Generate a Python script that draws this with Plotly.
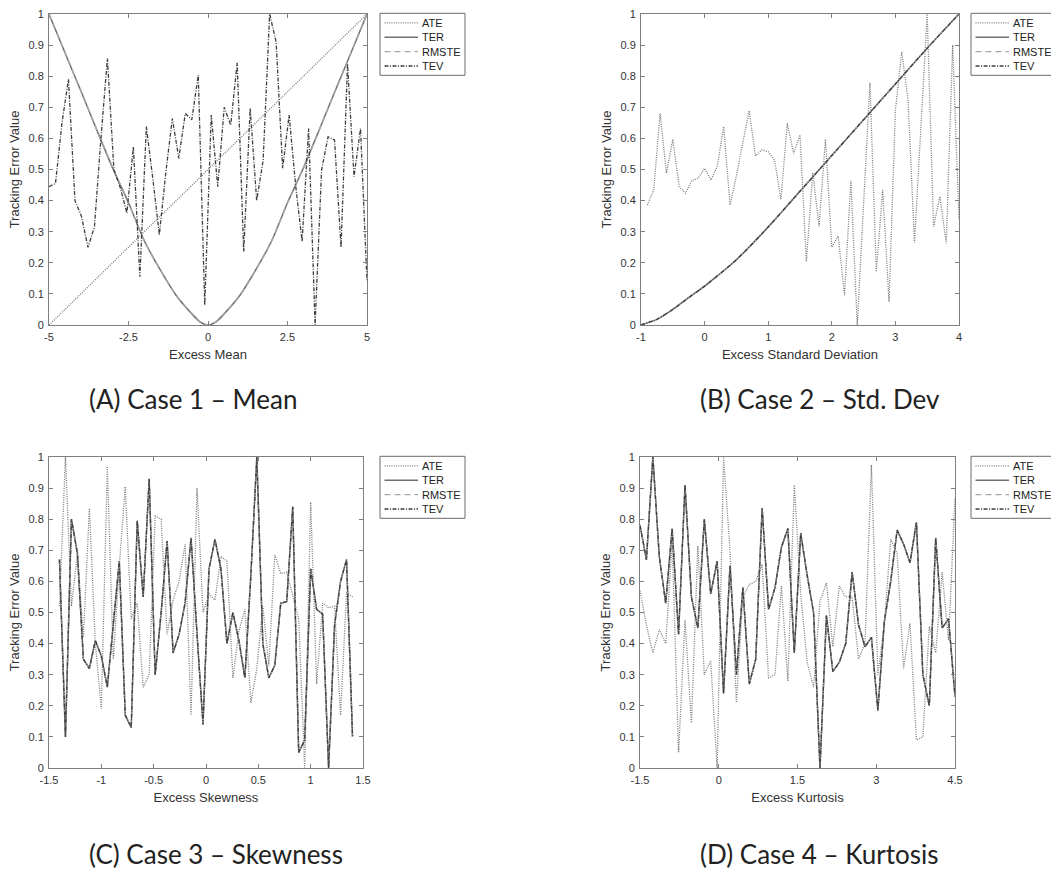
import numpy as np
import plotly.graph_objects as go

W, H = 1051, 872

series_names = ["ATE", "TER", "RMSTE", "TEV"]
y_ticks = [0, 0.1, 0.2, 0.3, 0.4, 0.5, 0.6, 0.7, 0.8, 0.9, 1]
y_ticktext = ["0", "0.1", "0.2", "0.3", "0.4", "0.5", "0.6", "0.7", "0.8", "0.9", "1"]

# ---- Case 1: excess mean ----
mean_x = np.linspace(-5, 5, 50)
mean_tev = [0.445, 0.455, 0.65, 0.79, 0.40, 0.35, 0.25, 0.315, 0.60, 0.857,
            0.50, 0.44, 0.36, 0.573, 0.155, 0.638, 0.47, 0.29, 0.49, 0.664,
            0.536, 0.68, 0.66, 0.804, 0.064, 0.675, 0.445, 0.70, 0.643, 0.843,
            0.236, 0.697, 0.40, 0.53, 1.0, 0.91, 0.504, 0.675, 0.45, 0.268,
            0.632, 0.0, 0.498, 0.605, 0.595, 0.25, 0.84, 0.477, 0.632, 0.14]
mean_ate_x = [-5, -2.5, 0, 2.5, 5]
mean_ate = [0.0, 0.25, 0.5, 0.75, 1.0]
mean_curve_x = [-5, -4.5, -4, -3.5, -3, -2.5, -2, -1.5, -1, -0.5, -0.25, 0,
                0.25, 0.5, 1, 1.5, 2, 2.5, 3, 3.5, 4, 4.5, 5]
mean_ter = [1.0, 0.876, 0.753, 0.628, 0.505, 0.393, 0.27, 0.177, 0.095, 0.035, 0.01, 0.0,
            0.01, 0.035, 0.095, 0.177, 0.27, 0.393, 0.505, 0.628, 0.753, 0.876, 1.0]
mean_rmste = [1.0, 0.876, 0.753, 0.628, 0.505, 0.393, 0.27, 0.177, 0.095, 0.035, 0.01, 0.0,
              0.01, 0.035, 0.095, 0.177, 0.27, 0.393, 0.505, 0.628, 0.753, 0.876, 1.0]

# ---- Case 2: excess standard deviation ----
std_x = np.linspace(-0.9, 4.0, 50)
std_ate = [0.386, 0.434, 0.68, 0.488, 0.597, 0.445, 0.423, 0.465, 0.472, 0.504,
           0.466, 0.511, 0.638, 0.386, 0.48, 0.58, 0.689, 0.544, 0.563, 0.557,
           0.53, 0.404, 0.648, 0.552, 0.611, 0.204, 0.49, 0.318, 0.597, 0.25,
           0.286, 0.096, 0.464, 0.0, 0.40, 0.779, 0.171, 0.434, 0.075, 0.69,
           0.879, 0.72, 0.265, 0.63, 1.0, 0.316, 0.413, 0.262, 0.90, 0.34]
std_curve_x = [-1, -0.75, -0.5, -0.25, 0, 0.5, 1, 1.5, 2, 2.5, 3, 3.5, 4]
std_ter = [0.0, 0.018, 0.05, 0.088, 0.125, 0.21, 0.315, 0.43, 0.545, 0.66, 0.775, 0.89, 1.0]
std_rmste = [0.0, 0.018, 0.05, 0.088, 0.125, 0.21, 0.315, 0.43, 0.545, 0.66, 0.775, 0.89, 1.0]
std_tev = [0.0, 0.018, 0.05, 0.088, 0.125, 0.21, 0.315, 0.43, 0.545, 0.66, 0.775, 0.89, 1.0]

# ---- Case 3: excess skewness ----
skew_x = np.linspace(-1.4, 1.4, 50)
skew_ate = [0.52, 1.0, 0.52, 0.69, 0.42, 0.835, 0.40, 0.19, 0.97, 0.35,
            0.65, 0.905, 0.48, 0.53, 0.26, 0.30, 0.81, 0.80, 0.43, 0.54,
            0.60, 0.72, 0.17, 0.90, 0.50, 0.56, 0.54, 0.68, 0.665, 0.29,
            0.44, 0.51, 0.21, 0.32, 0.52, 0.33, 0.685, 0.625, 0.63, 0.55,
            0.48, 0.0, 0.855, 0.27, 0.53, 0.515, 0.52, 0.17, 0.565, 0.55]
skew_ter = [0.67, 0.10, 0.80, 0.69, 0.35, 0.32, 0.41, 0.36, 0.26, 0.47,
            0.665, 0.17, 0.13, 0.795, 0.55, 0.93, 0.30, 0.50, 0.73, 0.37,
            0.43, 0.53, 0.74, 0.43, 0.14, 0.64, 0.735, 0.64, 0.40, 0.50,
            0.41, 0.29, 0.62, 1.0, 0.40, 0.29, 0.33, 0.53, 0.535, 0.84,
            0.05, 0.09, 0.64, 0.51, 0.495, 0.0, 0.46, 0.60, 0.67, 0.10]
skew_rmste = list(skew_ter)
skew_tev = list(skew_ter)

# ---- Case 4: excess kurtosis ----
kurt_x = np.linspace(-1.5, 4.5, 50)
kurt_ate = [0.57, 0.46, 0.37, 0.445, 0.40, 0.73, 0.05, 0.475, 0.145, 0.715,
            0.30, 0.345, 0.0, 1.0, 0.70, 0.21, 0.55, 0.59, 0.60, 0.655,
            0.29, 0.30, 0.585, 0.28, 0.91, 0.56, 0.34, 0.26, 0.535, 0.595,
            0.39, 0.585, 0.55, 0.55, 0.35, 0.40, 0.975, 0.30, 0.46, 0.735,
            0.69, 0.32, 0.465, 0.09, 0.10, 0.455, 0.37, 0.63, 0.41, 0.87]
kurt_ter = [0.78, 0.67, 1.0, 0.68, 0.53, 0.77, 0.43, 0.91, 0.55, 0.45,
            0.80, 0.56, 0.665, 0.24, 0.65, 0.30, 0.58, 0.27, 0.35, 0.835,
            0.51, 0.58, 0.71, 0.77, 0.37, 0.755, 0.62, 0.50, 0.0, 0.49,
            0.31, 0.34, 0.40, 0.63, 0.46, 0.39, 0.42, 0.185, 0.47, 0.60,
            0.765, 0.72, 0.66, 0.79, 0.30, 0.20, 0.74, 0.45, 0.48, 0.23]
kurt_rmste = list(kurt_ter)
kurt_tev = list(kurt_ter)

# ---- line styles (MATLAB-like greyscale) ----
STYLE = {
    "ATE": dict(color="#7a7a7a", width=1.3, dash="1px,1.3px"),
    "TER": dict(color="#707070", width=1.5, dash="solid"),
    "RMSTE": dict(color="#a6a6a6", width=1.4, dash="6px,4px"),
    "TEV": dict(color="#3e3e3e", width=1.3, dash="4px,1.5px,1px,1.5px"),
}

TICK_FONT = dict(family="Liberation Sans, Arial, sans-serif", size=11, color="#333333")
TITLE_FONT = dict(family="Liberation Sans, Arial, sans-serif", size=13, color="#333333")
AXIS_GREY = "#7f7f7f"


def px_x(p):
    return p / W


def px_y(p):
    return 1 - p / H


panels = [
    dict(name="A", xd=(49, 367), yd=(14, 325), xr=[-5, 5],
         xt=[-5, -2.5, 0, 2.5, 5], xtt=["-5", "-2.5", "0", "2.5", "5"],
         xtitle="Excess Mean",
         series=[("ATE", mean_ate_x, mean_ate, "linear"),
                 ("TER", mean_curve_x, mean_ter, "spline"),
                 ("RMSTE", mean_curve_x, mean_rmste, "spline"),
                 ("TEV", mean_x, mean_tev, "linear")],
         legend=(380, 13.3), caption=("(A) Case 1 \u2013 Mean", 87, 399)),
    dict(name="B", xd=(641, 959), yd=(14, 325), xr=[-1, 4],
         xt=[-1, 0, 1, 2, 3, 4], xtt=["-1", "0", "1", "2", "3", "4"],
         xtitle="Excess Standard Deviation",
         series=[("ATE", std_x, std_ate, "linear"),
                 ("TER", std_curve_x, std_ter, "spline"),
                 ("RMSTE", std_curve_x, std_rmste, "spline"),
                 ("TEV", std_curve_x, std_tev, "spline")],
         legend=(971, 13.3), caption=("(B) Case 2 \u2013 Std. Dev", 698, 399)),
    dict(name="C", xd=(49, 363), yd=(457, 768), xr=[-1.5, 1.5],
         xt=[-1.5, -1, -0.5, 0, 0.5, 1, 1.5],
         xtt=["-1.5", "-1", "-0.5", "0", "0.5", "1", "1.5"],
         xtitle="Excess Skewness",
         series=[("ATE", skew_x, skew_ate, "linear"),
                 ("TER", skew_x, skew_ter, "linear"),
                 ("RMSTE", skew_x, skew_rmste, "linear"),
                 ("TEV", skew_x, skew_tev, "linear")],
         legend=(380, 456.3), caption=("(C) Case 3 \u2013 Skewness", 87, 854)),
    dict(name="D", xd=(640, 955), yd=(457, 768), xr=[-1.5, 4.5],
         xt=[-1.5, 0, 1.5, 3, 4.5], xtt=["-1.5", "0", "1.5", "3", "4.5"],
         xtitle="Excess Kurtosis",
         series=[("ATE", kurt_x, kurt_ate, "linear"),
                 ("TER", kurt_x, kurt_ter, "linear"),
                 ("RMSTE", kurt_x, kurt_rmste, "linear"),
                 ("TEV", kurt_x, kurt_tev, "linear")],
         legend=(971, 456.3), caption=("(D) Case 4 \u2013 Kurtosis", 698, 854)),
]

fig = go.Figure()
shapes = []
annotations = []
layout_axes = {}

for i, p in enumerate(panels, start=1):
    sfx = "" if i == 1 else str(i)
    xref, yref = "x" + sfx, "y" + sfx
    for name, xs, ys, shape in p["series"]:
        st = STYLE[name]
        fig.add_trace(go.Scatter(
            x=list(xs), y=ys, mode="lines", name=name, showlegend=False,
            xaxis=xref, yaxis=yref,
            line=dict(color=st["color"], width=st["width"], dash=st["dash"],
                      shape=shape, smoothing=0.6 if shape == "spline" else None),
        ))
    common = dict(showline=True, linecolor=AXIS_GREY, linewidth=1, mirror="ticks",
                  ticks="inside", ticklen=4, tickcolor=AXIS_GREY, tickwidth=1,
                  showgrid=False, zeroline=False, tickfont=TICK_FONT,
                  fixedrange=True)
    layout_axes["xaxis" + sfx] = dict(
        common, domain=[px_x(p["xd"][0]), px_x(p["xd"][1])], range=p["xr"],
        anchor=yref, tickmode="array", tickvals=p["xt"], ticktext=p["xtt"],
        ticklabelstandoff=2,
        title=dict(text=p["xtitle"], font=TITLE_FONT, standoff=7))
    layout_axes["yaxis" + sfx] = dict(
        common, domain=[px_y(p["yd"][1]), px_y(p["yd"][0])], range=[0, 1],
        anchor=xref, tickmode="array", tickvals=y_ticks, ticktext=y_ticktext,
        ticklabelstandoff=2,
        title=dict(text="Tracking Error Value", font=TITLE_FONT, standoff=5))

    # legend box drawn in pixel-based paper coordinates
    lx, ly = p["legend"]
    shapes.append(dict(type="rect", xref="paper", yref="paper",
                       x0=px_x(lx), x1=px_x(lx + 85), y0=px_y(ly + 62), y1=px_y(ly),
                       line=dict(color="#6a6a6a", width=1), fillcolor="white",
                       layer="above"))
    for k, name in enumerate(series_names):
        st = STYLE[name]
        yy = ly + 9.5 + 14.4 * k
        shapes.append(dict(type="line", xref="paper", yref="paper",
                           x0=px_x(lx + 4.5), x1=px_x(lx + 38), y0=px_y(yy), y1=px_y(yy),
                           line=dict(color=st["color"], width=st["width"], dash=st["dash"]),
                           layer="above"))
        annotations.append(dict(text=name, xref="paper", yref="paper",
                                x=px_x(lx + 39.5), y=px_y(yy), xanchor="left",
                                yanchor="middle", showarrow=False,
                                font=dict(family="Liberation Sans, Arial, sans-serif",
                                          size=11, color="#222222")))

    text, cx, cy = p["caption"]
    annotations.append(dict(text=text, xref="paper", yref="paper",
                            x=px_x(cx), y=px_y(cy), xanchor="left", yanchor="middle",
                            showarrow=False,
                            font=dict(family="Lato, Carlito, sans-serif", size=26,
                                      color="#222222")))

fig.update_layout(
    width=W, height=H,
    margin=dict(l=0, r=0, t=0, b=0, autoexpand=False),
    paper_bgcolor="white", plot_bgcolor="white",
    showlegend=False,
    shapes=shapes, annotations=annotations,
    **layout_axes,
)

fig.write_html("out.html")
